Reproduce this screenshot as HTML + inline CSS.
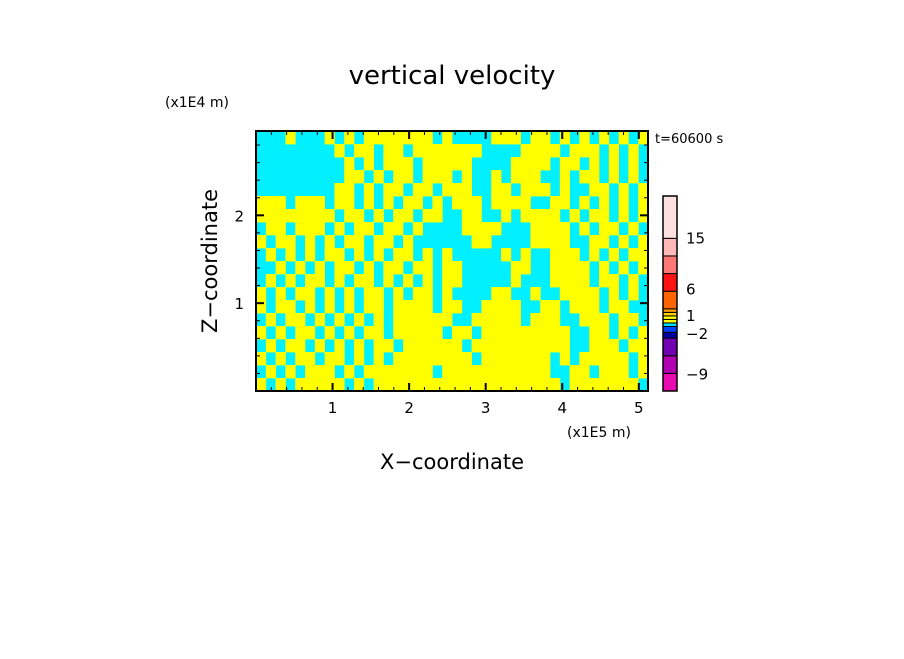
<!DOCTYPE html>
<html><head><meta charset="utf-8"><style>
body{margin:0;background:#fff;}
svg text{font-family:"DejaVu Sans","Liberation Sans",sans-serif;fill:#000;}
</style></head><body>
<svg id="chart" width="904" height="654" viewBox="0 0 904 654" xmlns="http://www.w3.org/2000/svg">
<rect width="904" height="654" fill="#fff"/>
<text x="452" y="84" font-size="26" text-anchor="middle">vertical velocity</text>
<text x="165" y="107" font-size="14">(x1E4 m)</text>
<text x="655" y="143" font-size="13">t=60600 s</text>
<text x="567" y="437" font-size="14">(x1E5 m)</text>
<text x="452" y="469" font-size="21" text-anchor="middle">X−coordinate</text>
<text x="0" y="0" font-size="21" text-anchor="middle" transform="translate(217,261) rotate(-90)">Z−coordinate</text>
<g id="field"></g>
<g id="axes"></g>
<g id="cbar"></g>
</svg>
<script>
// field data: rows from top (z high) to bottom; 1 = yellow (positive), 0 = cyan (negative)
const fieldRows = [
"0001000101011111110100001110110101010101",
"0000000010110110111111100001111011101010",
"0000000001010111011111000011110110101010",
"0000000001101011011101001011100101101010",
"0000000011010110110111001101110100110101",
"1110111011010101101011101111001101010101",
"1111111101101011011001100101111010110101",
"0110111010110110100001111000111101011010",
"1011010101101101000000110000111100110101",
"0101010110101011010100000101001110101011",
"0010101011010110110110000011001111010101",
"0101011010110101010110000010001111011010",
"1010110101011010110100001100100111101010",
"1011010101011011110110011110011011101100",
"0101101010101011111100111110111001110110",
"1010110101011011111011011111111100110101",
"0101101010101101111110111111111100111011",
"1010110110101011111111011111110101111101",
"0101011101011111110111111111110011011101",
"1010111110101111111111111111111011111110"
];
const fieldColors = ["#00f0ff","#ffff00"];
const xDomain = [0, 5.12];
const zDomain = [0, 2.96];
const xTicks = [1,2,3,4,5];
const xTickLabels = ["1","2","3","4","5"];
const zTicks = [1,2];
const zTickLabels = ["1","2"];
const cbarColors = ["#e80cb0","#b000b0","#7000b0","#0000a0","#0040ff","#00e0ff","#ffff00","#ffff00","#ffd000","#ffa000","#ff6400","#ff1414","#ff7878","#ffb8b8","#ffe0e0"];
const cbarWeights = [1,1,1,0.33,0.33,0.2,0.2,0.2,0.2,0.2,1,1,1,1,2.4];
const cbarLabels = ["−9","−2","1","6","15"];
const cbarLabelPos = [1.0,3.3,4.3,5.8,8.7];

const L=256,R=648,T=131,B=391;
const sx=v=>L+(v-xDomain[0])/(xDomain[1]-xDomain[0])*(R-L);
const sz=v=>B-(v-zDomain[0])/(zDomain[1]-zDomain[0])*(B-T);
const NS="http://www.w3.org/2000/svg";
function mk(tag,attrs,parent){const e=document.createElementNS(NS,tag);for(const k in attrs)e.setAttribute(k,attrs[k]);parent.appendChild(e);return e;}

const field=document.getElementById('field');
const nr=fieldRows.length,nc=fieldRows[0].length;
const cw=(R-L)/nc,ch=(B-T)/nr;
mk('rect',{x:L,y:T,width:R-L,height:B-T,fill:fieldColors[0]},field);
fieldRows.forEach((row,r)=>{for(let c=0;c<nc;c++){const v=+row[c];if(!v)continue;
const el=mk('rect',{x:L+c*cw,y:T+r*ch,width:cw+0.4,height:ch+0.4,fill:fieldColors[v]},field);

}});

const axes=document.getElementById('axes');
mk('rect',{x:L,y:T,width:R-L,height:B-T,fill:'none',stroke:'#000','stroke-width':2},axes);
for(let v=0.2;v<xDomain[1];v+=0.2){const x=sx(v);const major=Math.abs(v-Math.round(v))<0.01;const len=major?8:4;
mk('line',{x1:x,y1:B,x2:x,y2:B-len,stroke:'#000','stroke-width':major?2:1},axes);
mk('line',{x1:x,y1:T,x2:x,y2:T+len,stroke:'#000','stroke-width':major?2:1},axes);}
for(let v=0.2;v<zDomain[1];v+=0.2){const y=sz(v);const major=Math.abs(v-Math.round(v))<0.01;const len=major?8:4;
mk('line',{x1:L,y1:y,x2:L+len,y2:y,stroke:'#000','stroke-width':major?2:1},axes);
mk('line',{x1:R,y1:y,x2:R-len,y2:y,stroke:'#000','stroke-width':major?2:1},axes);}
xTicks.forEach((v,i)=>{const t=mk('text',{x:sx(v),y:B+22,'font-size':15,'text-anchor':'middle'},axes);t.textContent=xTickLabels[i];

});
zTicks.forEach((v,i)=>{const t=mk('text',{x:L-12,y:sz(v)+6,'font-size':15,'text-anchor':'end'},axes);t.textContent=zTickLabels[i];

});

const cbar=document.getElementById('cbar');
const cx=663,cwid=14,ctop=196,cbot=391;
const tot=cbarWeights.reduce((a,b)=>a+b,0);
const unit=(cbot-ctop)/tot;
let y=cbot;
cbarColors.forEach((col,i)=>{const h=cbarWeights[i]*unit;y-=h;
const r=mk('rect',{x:cx,y:y,width:cwid,height:h,fill:col,stroke:'#000','stroke-width':1},cbar);

});
mk('rect',{x:cx,y:ctop,width:cwid,height:cbot-ctop,fill:'none',stroke:'#000','stroke-width':1.5},cbar);
cbarLabels.forEach((lab,i)=>{const yy=cbot-cbarLabelPos[i]*unit;
const t=mk('text',{x:686,y:yy+6,'font-size':15},cbar);t.textContent=lab;

});
</script>
</body></html>
